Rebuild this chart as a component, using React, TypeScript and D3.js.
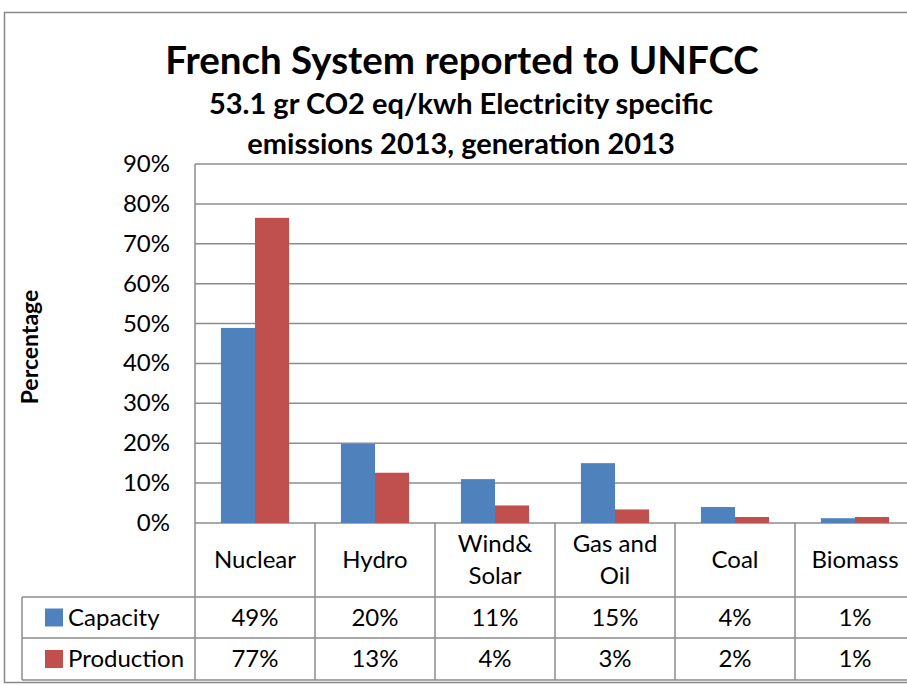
import React, { useEffect, useRef } from 'react';
import * as d3 from 'd3';

const categories = ['Nuclear', 'Hydro', 'Wind& Solar', 'Gas and Oil', 'Coal', 'Biomass'];
const categoryLines = [['Nuclear'], ['Hydro'], ['Wind&', 'Solar'], ['Gas and', 'Oil'], ['Coal'], ['Biomass']];
const seriesNames = ['Capacity', 'Production'];
const capacity = [48.9, 19.8, 11.0, 15.0, 4.0, 1.2];
const production = [76.5, 12.6, 4.4, 3.4, 1.5, 1.5];
const capacityLabels = ['49%', '20%', '11%', '15%', '4%', '1%'];
const productionLabels = ['77%', '13%', '4%', '3%', '2%', '1%'];
const yTicks = [0, 10, 20, 30, 40, 50, 60, 70, 80, 90];

const colors = ['#4F81BD', '#C0504D'];
const FONT = 'Lato, "Open Sans", sans-serif';

export default function App() {
  const svgRef = useRef<SVGSVGElement>(null);

  useEffect(() => {
    if (!svgRef.current) return;
    const svg = d3.select(svgRef.current);
    svg.selectAll('*').remove();

    const plot = { left: 195, right: 915, top: 164, bottom: 523 };
    const rowTops = [523, 597, 638, 680];
    const legendLeft = 22;
    const grid = '#8c8c8c';

    const x = d3.scaleBand<string>().domain(categories).range([plot.left, plot.right]);
    const inner = d3.scaleBand<string>().domain(seriesNames).range([0, x.bandwidth()]).paddingOuter(0.76).paddingInner(0);
    const y = d3.scaleLinear().domain([0, 90]).range([plot.bottom, plot.top]);

    // chart border
    svg.append('rect')
      .attr('x', 4.5).attr('y', 12.5).attr('width', 1000).attr('height', 670)
      .attr('fill', 'white').attr('stroke', '#888').attr('stroke-width', 1.5);

    // titles
    svg.append('text')
      .attr('x', 462).attr('y', 74).attr('text-anchor', 'middle')
      .attr('font-family', FONT).attr('font-weight', 700).attr('font-size', 38.5)
      .text('French System reported to UNFCC');
    svg.append('text')
      .attr('x', 461).attr('y', 114).attr('text-anchor', 'middle')
      .attr('font-family', FONT).attr('font-weight', 700).attr('font-size', 29)
      .text('53.1 gr CO2 eq/kwh Electricity specific');
    svg.append('text')
      .attr('x', 461).attr('y', 154).attr('text-anchor', 'middle')
      .attr('font-family', FONT).attr('font-weight', 700).attr('font-size', 29)
      .text('emissions 2013, generation 2013');

    // grid lines
    svg.append('g')
      .selectAll('line')
      .data(yTicks)
      .join('line')
      .attr('x1', plot.left).attr('x2', plot.right)
      .attr('y1', (d) => y(d)).attr('y2', (d) => y(d))
      .attr('stroke', grid).attr('stroke-width', 1.5);

    // y axis line
    svg.append('line')
      .attr('x1', plot.left).attr('x2', plot.left)
      .attr('y1', plot.top).attr('y2', plot.bottom)
      .attr('stroke', grid).attr('stroke-width', 1.5);

    // y tick labels
    svg.append('g')
      .selectAll('text')
      .data(yTicks)
      .join('text')
      .attr('x', 170).attr('y', (d) => y(d) + 8)
      .attr('text-anchor', 'end')
      .attr('font-family', FONT).attr('font-size', 24)
      .text((d) => `${d}%`);

    // y axis title
    svg.append('text')
      .attr('transform', 'translate(38,347) rotate(-90)')
      .attr('text-anchor', 'middle')
      .attr('font-family', FONT).attr('font-weight', 700).attr('font-size', 23)
      .text('Percentage');

    // bars
    const series = [capacity, production];
    series.forEach((vals, si) => {
      svg.append('g')
        .selectAll('rect')
        .data(vals)
        .join('rect')
        .attr('x', (_, i) => (x(categories[i]) ?? 0) + (inner(seriesNames[si]) ?? 0))
        .attr('width', inner.bandwidth())
        .attr('y', (d) => y(d))
        .attr('height', (d) => y(0) - y(d))
        .attr('fill', colors[si]);
    });

    // data table lines
    const t = svg.append('g').attr('stroke', grid).attr('stroke-width', 1.5);
    categories.forEach((c) => {
      t.append('line')
        .attr('x1', x(c) ?? 0).attr('x2', x(c) ?? 0)
        .attr('y1', rowTops[0]).attr('y2', rowTops[3]);
    });
    [rowTops[1], rowTops[2], rowTops[3]].forEach((ry) => {
      t.append('line')
        .attr('x1', legendLeft).attr('x2', plot.right)
        .attr('y1', ry).attr('y2', ry);
    });
    t.append('line')
      .attr('x1', legendLeft).attr('x2', legendLeft)
      .attr('y1', rowTops[1]).attr('y2', rowTops[3]);

    // category labels
    categoryLines.forEach((lines, i) => {
      const cx = (x(categories[i]) ?? 0) + x.bandwidth() / 2;
      const midY = (rowTops[0] + rowTops[1]) / 2;
      lines.forEach((ln, li) => {
        svg.append('text')
          .attr('x', cx)
          .attr('y', midY + 8 + (li - (lines.length - 1) / 2) * 32)
          .attr('text-anchor', 'middle')
          .attr('font-family', FONT).attr('font-size', 24)
          .text(ln);
      });
    });

    // table rows
    const rowLabels = [capacityLabels, productionLabels];
    rowLabels.forEach((labels, ri) => {
      const top = rowTops[ri + 1];
      const bottom = rowTops[ri + 2];
      const midY = (top + bottom) / 2;
      svg.append('rect')
        .attr('x', 45).attr('y', midY - 9).attr('width', 18).attr('height', 18)
        .attr('fill', colors[ri]);
      svg.append('text')
        .attr('x', 68).attr('y', midY + 8)
        .attr('font-family', FONT).attr('font-size', 24)
        .text(seriesNames[ri]);
      svg.append('g')
        .selectAll('text')
        .data(labels)
        .join('text')
        .attr('x', (_, i) => (x(categories[i]) ?? 0) + x.bandwidth() / 2)
        .attr('y', midY + 8)
        .attr('text-anchor', 'middle')
        .attr('font-family', FONT).attr('font-size', 24)
        .text((d) => d);
    });
  }, []);

  return (
    <svg
      ref={svgRef}
      width={907}
      height={686}
      style={{ position: 'absolute', left: 0, top: 0, display: 'block' }}
    />
  );
}
